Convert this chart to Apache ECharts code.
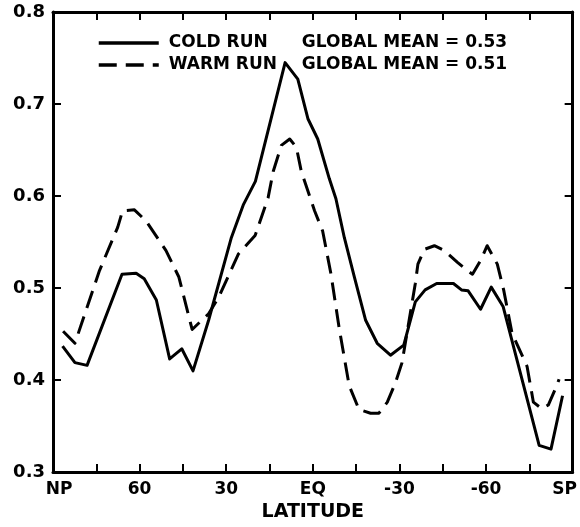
<!DOCTYPE html>
<html>
<head>
<meta charset="utf-8">
<script src="https://cdn.jsdelivr.net/npm/echarts@6/dist/echarts.min.js"></script>
<style>
  html, body { margin: 0; padding: 0; background: #fff; }
  #chart { width: 580px; height: 527px; }
</style>
</head>
<body>
<div id="chart"></div>
<script>
// latitude (deg, + north) and values
const coldLat = [86.7, 82.4, 78.2, 66.1, 61.2, 58.4, 54.2, 49.6, 45.4, 41.5, 36.1, 28.2, 24.0, 19.9,
  9.6, 5.2, 1.7, -1.7, -5.7, -8.0, -10.9, -14.4, -18.3, -22.3, -26.9, -31.5, -35.5, -38.9, -42.9,
  -48.7, -51.5, -53.8, -58.1, -61.8, -65.9, -78.4, -82.5, -86.5];
const coldVal = [0.437, 0.419, 0.416, 0.515, 0.516, 0.510, 0.487, 0.423, 0.434, 0.410, 0.465, 0.555, 0.591, 0.616,
  0.745, 0.727, 0.684, 0.662, 0.619, 0.597, 0.555, 0.512, 0.465, 0.440, 0.427, 0.438, 0.485, 0.498, 0.505,
  0.505, 0.498, 0.497, 0.477, 0.501, 0.480, 0.329, 0.325, 0.383];

const warmLat = [86.5, 82.4, 73.9, 67.6, 65.9, 61.8, 57.8, 50.9, 46.4, 41.8, 36.1, 32.6, 25.8, 20.0,
  15.5, 13.7, 10.9, 8.0, 5.7, 4.0, -0.6, -3.4, -6.3, -9.2, -12.6, -16.0, -20.0, -22.9, -25.8, -28.6,
  -30.9, -35.5, -36.4, -38.6, -42.1, -45.5, -50.1, -53.5, -55.3, -58.1, -60.4, -63.9, -66.1, -69.0,
  -74.2, -76.4, -79.3, -81.6, -84.5, -85.3];
const warmVal = [0.453, 0.440, 0.519, 0.566, 0.584, 0.585, 0.573, 0.541, 0.512, 0.455, 0.472, 0.490, 0.537, 0.557,
  0.598, 0.627, 0.655, 0.662, 0.653, 0.627, 0.584, 0.562, 0.515, 0.455, 0.394, 0.368, 0.364, 0.364, 0.376, 0.397,
  0.419, 0.505, 0.526, 0.542, 0.546, 0.541, 0.528, 0.519, 0.515, 0.530, 0.546, 0.526, 0.498, 0.451,
  0.415, 0.376, 0.369, 0.373, 0.394, 0.401];

const seriesNames = ["COLD RUN", "WARM RUN"];
const globalMeans = ["0.53", "0.51"];
const latLabels = { "90": "NP", "60": "60", "30": "30", "0": "EQ", "-30": "-30", "-60": "-60", "-90": "SP" };

const FONT = "DejaVu Sans";
const pairs = (xs, ys) => xs.map((x, i) => [x, ys[i]]);

const frameLine = { show: true, onZero: false, lineStyle: { color: "#000", width: 3 } };
const inTick = { inside: true, length: 8, lineStyle: { color: "#000", width: 2 } };

const chart = echarts.init(document.getElementById("chart"));
chart.setOption({
  animation: false,
  backgroundColor: "#fff",
  grid: { left: 53, right: 3, top: 12, bottom: 50 },
  legend: {
    orient: "vertical",
    left: 92,
    top: 28,
    itemWidth: 60,
    itemHeight: 14,
    itemGap: 2,
    data: seriesNames,
    itemStyle: { opacity: 0 },
    lineStyle: { width: 3.5 },
    formatter: (name) => {
      const i = seriesNames.indexOf(name);
      return "{a|" + name + "}{b|GLOBAL MEAN = " + globalMeans[i] + "}";
    },
    textStyle: {
      color: "#000",
      fontFamily: FONT,
      fontWeight: "bold",
      fontSize: 17,
      lineHeight: 20,
      rich: {
        a: { width: 133, padding: [0, 0, 0, 5], fontFamily: FONT, fontWeight: "bold", fontSize: 17, color: "#000" },
        b: { fontFamily: FONT, fontWeight: "bold", fontSize: 17, color: "#000" },
      },
    },
  },
  xAxis: [
    {
      type: "value",
      min: -90,
      max: 90,
      interval: 15,
      inverse: true,
      name: "LATITUDE",
      nameLocation: "middle",
      nameGap: 26,
      nameTextStyle: { color: "#000", fontFamily: FONT, fontWeight: "bold", fontSize: 19, verticalAlign: "top" },
      axisLine: frameLine,
      axisTick: inTick,
      splitLine: { show: false },
      axisLabel: {
        color: "#000",
        fontFamily: FONT,
        fontWeight: "bold",
        fontSize: 17,
        margin: 9,
        showMinLabel: true,
        showMaxLabel: true,
        formatter: (v) => {
          const s = latLabels[String(v)] || "";
          if (v === 90) return "{np|" + s + "}";
          if (v === -90) return "{sp|" + s + "}";
          return s;
        },
        rich: {
          np: { padding: [0, 0, 0, 12], fontFamily: FONT, fontWeight: "bold", fontSize: 17, color: "#000" },
          sp: { padding: [0, 16, 0, 0], fontFamily: FONT, fontWeight: "bold", fontSize: 17, color: "#000" },
        },
      },
    },
    {
      type: "value",
      position: "top",
      min: -90,
      max: 90,
      interval: 15,
      inverse: true,
      axisLine: frameLine,
      axisTick: inTick,
      axisLabel: { show: false },
      splitLine: { show: false },
    },
  ],
  yAxis: [
    {
      type: "value",
      min: 0.3,
      max: 0.8,
      interval: 0.1,
      axisLine: frameLine,
      axisTick: inTick,
      splitLine: { show: false },
      axisLabel: {
        color: "#000",
        fontFamily: FONT,
        fontWeight: "bold",
        fontSize: 18,
        margin: 8,
        formatter: (v) => v.toFixed(1),
      },
    },
    {
      type: "value",
      position: "right",
      min: 0.3,
      max: 0.8,
      interval: 0.1,
      axisLine: frameLine,
      axisTick: inTick,
      axisLabel: { show: false },
      splitLine: { show: false },
    },
  ],
  series: [
    {
      name: seriesNames[0],
      type: "line",
      data: pairs(coldLat, coldVal),
      showSymbol: false,
      symbol: "none",
      lineStyle: { color: "#000", width: 3, join: "round" },
      itemStyle: { color: "#000" },
    },
    {
      name: seriesNames[1],
      type: "line",
      data: pairs(warmLat, warmVal),
      showSymbol: false,
      symbol: "none",
      lineStyle: { color: "#000", width: 3, type: [18, 9], join: "round" },
      itemStyle: { color: "#000" },
    },
  ],
});
</script>
</body>
</html>
